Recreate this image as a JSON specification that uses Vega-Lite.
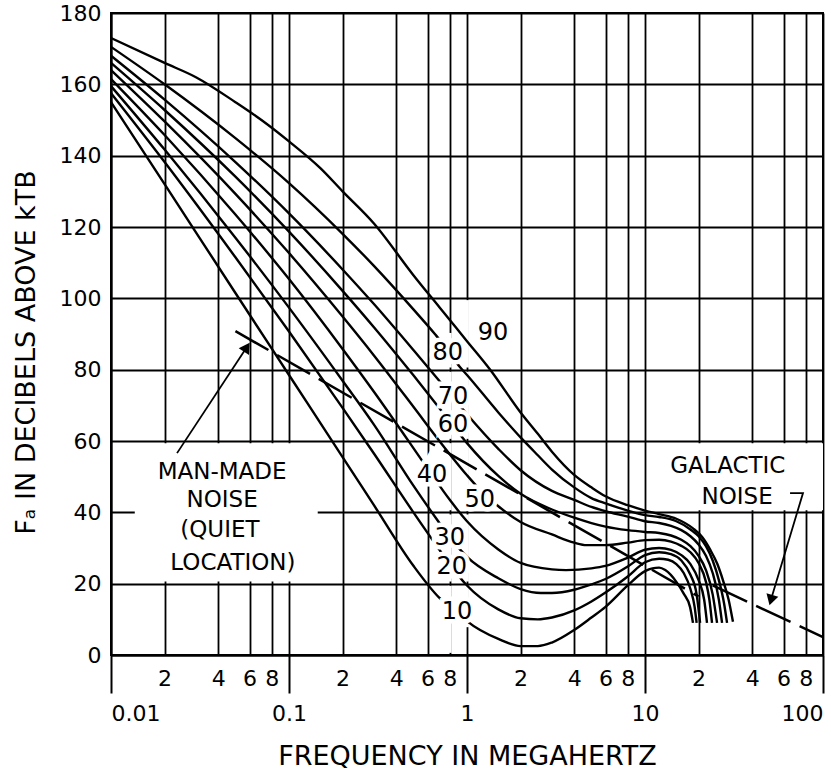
{
  "$schema": "https://vega.github.io/schema/vega-lite/v6.json",
  "width": 712,
  "height": 642,
  "autosize": "none",
  "padding": {"left": 111, "top": 13, "right": 8, "bottom": 119},
  "background": "white",
  "config": {
    "font": "DejaVu Sans",
    "view": {"stroke": "black", "strokeWidth": 2},
    "axis": {
      "gridColor": "black", "gridOpacity": 1, "gridWidth": 1.8,
      "domainColor": "black", "domainWidth": 2,
      "labelColor": "black", "titleColor": "black", "tickColor": "black",
      "labelFont": "DejaVu Sans", "titleFont": "DejaVu Sans", "titleFontWeight": "normal"
    }
  },
  "datasets": {
    "curves": [
      {"c":"10","f":0.01,"v":155},{"c":"10","f":0.02,"v":132},{"c":"10","f":0.05,"v":101.5},{"c":"10","f":0.1,"v":78.5},{"c":"10","f":0.2,"v":55.5},{"c":"10","f":0.3,"v":42},{"c":"10","f":0.5,"v":25},{"c":"10","f":0.7,"v":16},{"c":"10","f":0.88,"v":12},{"c":"10","f":1,"v":9.5},{"c":"10","f":1.5,"v":4.5},{"c":"10","f":2,"v":2.5},{"c":"10","f":2.5,"v":2.5},{"c":"10","f":3,"v":3.5},{"c":"10","f":4,"v":7},{"c":"10","f":5,"v":10.5},{"c":"10","f":6,"v":13.5},{"c":"10","f":8,"v":19.5},{"c":"10","f":10,"v":23.5},{"c":"10","f":11,"v":24.3},{"c":"10","f":12,"v":24.5},{"c":"10","f":13,"v":23.8},{"c":"10","f":15,"v":20.5},{"c":"10","f":16.5,"v":17.2},{"c":"10","f":17.9,"v":13.5},{"c":"10","f":18.6,"v":9},
      {"c":"20","f":0.01,"v":157.5},{"c":"20","f":0.02,"v":138.2},{"c":"20","f":0.05,"v":111.5},{"c":"20","f":0.1,"v":90.7},{"c":"20","f":0.2,"v":69.3},{"c":"20","f":0.3,"v":56.5},{"c":"20","f":0.5,"v":40},{"c":"20","f":0.7,"v":29.5},{"c":"20","f":0.82,"v":24.7},{"c":"20","f":1,"v":19.5},{"c":"20","f":1.5,"v":12.8},{"c":"20","f":2,"v":10.3},{"c":"20","f":2.5,"v":10},{"c":"20","f":3,"v":10.5},{"c":"20","f":4,"v":12.5},{"c":"20","f":5,"v":15},{"c":"20","f":6,"v":17.5},{"c":"20","f":8,"v":22},{"c":"20","f":10,"v":26},{"c":"20","f":12,"v":27},{"c":"20","f":13.5,"v":26.7},{"c":"20","f":15,"v":25.5},{"c":"20","f":16.5,"v":23},{"c":"20","f":18,"v":18.5},{"c":"20","f":19,"v":13.5},{"c":"20","f":19.5,"v":9},
      {"c":"30","f":0.01,"v":159.5},{"c":"30","f":0.02,"v":141.7},{"c":"30","f":0.05,"v":117},{"c":"30","f":0.1,"v":97.4},{"c":"30","f":0.2,"v":76.9},{"c":"30","f":0.3,"v":64.6},{"c":"30","f":0.5,"v":47.5},{"c":"30","f":0.7,"v":37},{"c":"30","f":0.8,"v":33},{"c":"30","f":1,"v":27.5},{"c":"30","f":1.5,"v":21.5},{"c":"30","f":2,"v":18.5},{"c":"30","f":2.6,"v":17.4},{"c":"30","f":3,"v":17.4},{"c":"30","f":4,"v":18.3},{"c":"30","f":5,"v":19.8},{"c":"30","f":6,"v":21.3},{"c":"30","f":8,"v":24.8},{"c":"30","f":10,"v":28},{"c":"30","f":12,"v":28.8},{"c":"30","f":14,"v":28.3},{"c":"30","f":16,"v":26.5},{"c":"30","f":18,"v":22.5},{"c":"30","f":19.5,"v":17},{"c":"30","f":20.4,"v":9},
      {"c":"40","f":0.01,"v":161.5},{"c":"40","f":0.02,"v":145.8},{"c":"40","f":0.05,"v":123.5},{"c":"40","f":0.1,"v":105.4},{"c":"40","f":0.2,"v":85.8},{"c":"40","f":0.3,"v":73.8},{"c":"40","f":0.5,"v":58},{"c":"40","f":0.635,"v":50.5},{"c":"40","f":0.8,"v":43.5},{"c":"40","f":1,"v":37.5},{"c":"40","f":1.5,"v":29.6},{"c":"40","f":2,"v":25.8},{"c":"40","f":3,"v":24},{"c":"40","f":3.6,"v":23.8},{"c":"40","f":5,"v":24.3},{"c":"40","f":6,"v":25},{"c":"40","f":8,"v":27.3},{"c":"40","f":10,"v":29.5},{"c":"40","f":12,"v":30},{"c":"40","f":14,"v":29.5},{"c":"40","f":16,"v":28},{"c":"40","f":18,"v":25.5},{"c":"40","f":20,"v":21},{"c":"40","f":21.5,"v":15.5},{"c":"40","f":22.3,"v":9},
      {"c":"50","f":0.01,"v":164},{"c":"50","f":0.02,"v":149.6},{"c":"50","f":0.05,"v":129.3},{"c":"50","f":0.1,"v":112.7},{"c":"50","f":0.2,"v":94.9},{"c":"50","f":0.3,"v":84},{"c":"50","f":0.5,"v":69.6},{"c":"50","f":0.7,"v":60},{"c":"50","f":1,"v":50.4},{"c":"50","f":1.18,"v":46.4},{"c":"50","f":1.5,"v":41.7},{"c":"50","f":2,"v":37.3},{"c":"50","f":3,"v":33.8},{"c":"50","f":4,"v":31.5},{"c":"50","f":4.7,"v":30.8},{"c":"50","f":6,"v":30.8},{"c":"50","f":8,"v":31.5},{"c":"50","f":10,"v":32.2},{"c":"50","f":12,"v":32.3},{"c":"50","f":14,"v":31.8},{"c":"50","f":16,"v":30.6},{"c":"50","f":18,"v":28.8},{"c":"50","f":20,"v":25.8},{"c":"50","f":22,"v":20.5},{"c":"50","f":23,"v":15.5},{"c":"50","f":23.8,"v":9},
      {"c":"60","f":0.01,"v":166},{"c":"60","f":0.02,"v":152.8},{"c":"60","f":0.05,"v":134.1},{"c":"60","f":0.1,"v":118.7},{"c":"60","f":0.2,"v":102.1},{"c":"60","f":0.3,"v":91.9},{"c":"60","f":0.5,"v":78.4},{"c":"60","f":0.7,"v":69.2},{"c":"60","f":0.834,"v":64.3},{"c":"60","f":1,"v":59.4},{"c":"60","f":1.5,"v":50.2},{"c":"60","f":2,"v":45.2},{"c":"60","f":3,"v":40.8},{"c":"60","f":4,"v":38.5},{"c":"60","f":5,"v":37},{"c":"60","f":6,"v":36},{"c":"60","f":8,"v":35},{"c":"60","f":10,"v":34.5},{"c":"60","f":12,"v":34.2},{"c":"60","f":14,"v":33.5},{"c":"60","f":16,"v":32.3},{"c":"60","f":18,"v":30.5},{"c":"60","f":20,"v":27.8},{"c":"60","f":22,"v":23.8},{"c":"60","f":24,"v":17},{"c":"60","f":25.4,"v":9},
      {"c":"70","f":0.01,"v":168},{"c":"70","f":0.02,"v":155.7},{"c":"70","f":0.05,"v":138.2},{"c":"70","f":0.1,"v":123.8},{"c":"70","f":0.2,"v":108.1},{"c":"70","f":0.3,"v":98.4},{"c":"70","f":0.5,"v":85.5},{"c":"70","f":0.7,"v":76.8},{"c":"70","f":0.834,"v":72.2},{"c":"70","f":1,"v":67.5},{"c":"70","f":1.5,"v":57.8},{"c":"70","f":2,"v":51.8},{"c":"70","f":3,"v":46},{"c":"70","f":4,"v":43.5},{"c":"70","f":5,"v":41.5},{"c":"70","f":6,"v":40.3},{"c":"70","f":8,"v":38.8},{"c":"70","f":10,"v":37.5},{"c":"70","f":12,"v":37},{"c":"70","f":14,"v":36.2},{"c":"70","f":16,"v":35},{"c":"70","f":18,"v":33.3},{"c":"70","f":20,"v":31},{"c":"70","f":22,"v":27.8},{"c":"70","f":24,"v":23},{"c":"70","f":26,"v":15.5},{"c":"70","f":27.1,"v":9},
      {"c":"80","f":0.01,"v":170.5},{"c":"80","f":0.02,"v":160},{"c":"80","f":0.05,"v":144.9},{"c":"80","f":0.1,"v":132.3},{"c":"80","f":0.2,"v":118.1},{"c":"80","f":0.3,"v":109.1},{"c":"80","f":0.5,"v":96.9},{"c":"80","f":0.66,"v":90},{"c":"80","f":0.78,"v":85.5},{"c":"80","f":0.91,"v":80.8},{"c":"80","f":1,"v":78.5},{"c":"80","f":1.5,"v":68},{"c":"80","f":2,"v":61},{"c":"80","f":2.5,"v":56},{"c":"80","f":3,"v":52},{"c":"80","f":4,"v":47},{"c":"80","f":5,"v":44},{"c":"80","f":6,"v":42.5},{"c":"80","f":8,"v":40.5},{"c":"80","f":10,"v":39.2},{"c":"80","f":12,"v":38.7},{"c":"80","f":15,"v":37.5},{"c":"80","f":18,"v":35.2},{"c":"80","f":20,"v":33.3},{"c":"80","f":22,"v":30.5},{"c":"80","f":24,"v":26.5},{"c":"80","f":26,"v":21},{"c":"80","f":27.8,"v":14.5},{"c":"80","f":28.9,"v":9},
      {"c":"90","f":0.01,"v":173},{"c":"90","f":0.02,"v":166},{"c":"90","f":0.03,"v":162},{"c":"90","f":0.05,"v":155},{"c":"90","f":0.07,"v":150},{"c":"90","f":0.1,"v":144},{"c":"90","f":0.15,"v":136.5},{"c":"90","f":0.2,"v":130},{"c":"90","f":0.3,"v":121},{"c":"90","f":0.5,"v":106.5},{"c":"90","f":0.7,"v":97.5},{"c":"90","f":1,"v":88},{"c":"90","f":1.35,"v":80},{"c":"90","f":2,"v":68},{"c":"90","f":2.5,"v":62},{"c":"90","f":3,"v":57},{"c":"90","f":4,"v":50.5},{"c":"90","f":5,"v":47},{"c":"90","f":6,"v":44.5},{"c":"90","f":8,"v":42},{"c":"90","f":10,"v":40.5},{"c":"90","f":12,"v":39.5},{"c":"90","f":15,"v":38.2},{"c":"90","f":18.6,"v":35.5},{"c":"90","f":21,"v":33},{"c":"90","f":23.2,"v":29.6},{"c":"90","f":25.5,"v":25.5},{"c":"90","f":27.4,"v":21},{"c":"90","f":29.5,"v":15.5},{"c":"90","f":31.2,"v":9.3}
    ],
    "noise": [
      {"g":"man-made","f":0.05,"v":90.8},{"g":"man-made","f":20,"v":16.4},
      {"g":"galactic","f":24,"v":19.5},{"g":"galactic","f":100,"v":5}
    ],
    "boxes": [
      {"f":0.0136,"f2":0.145,"v":20.6,"v2":59.4},
      {"f":10.8,"f2":100,"v":40.6,"v2":59.4},
      {"f":0.78,"f2":0.82,"v":0.6,"v2":19.4},{"f":0.78,"f2":0.82,"v":20.6,"v2":39.4},{"f":0.78,"f2":0.82,"v":40.6,"v2":59.4},{"f":0.78,"f2":0.82,"v":60.6,"v2":79.4},{"f":0.78,"f2":0.82,"v":80.6,"v2":90.3},
      {"f":0.975,"f2":1.025,"v":7.8,"v2":19.4},{"f":0.975,"f2":1.025,"v":20.6,"v2":39.4},{"f":0.975,"f2":1.025,"v":40.6,"v2":59.4},{"f":0.975,"f2":1.025,"v":60.6,"v2":79.4},{"f":0.975,"f2":1.025,"v":80.6,"v2":99.5}
    ],
    "curveLabels": [
      {"t":"90","f":1.4,"v":90.3},{"t":"80","f":0.78,"v":84.7},{"t":"70","f":0.834,"v":72.3},{"t":"60","f":0.834,"v":64.5},{"t":"40","f":0.635,"v":50.5},{"t":"50","f":1.18,"v":43.5},{"t":"30","f":0.8,"v":32.8},{"t":"20","f":0.82,"v":24.7},{"t":"10","f":0.88,"v":12.1}
    ],
    "notes": [
      {"t":"MAN-MADE","f":0.0421,"v":51.3},{"t":"NOISE","f":0.0421,"v":43.5},{"t":"(QUIET","f":0.0409,"v":35},{"t":"LOCATION)","f":0.0484,"v":25.8},
      {"t":"GALACTIC","f":29.2,"v":53},{"t":"NOISE","f":32.9,"v":44.3}
    ],
    "arrows": [
      {"a":"man","i":1,"f":0.0235,"v":56.6},{"a":"man","i":2,"f":0.0579,"v":86.3},
      {"a":"gal","i":1,"f":65.3,"v":45.4},{"a":"gal","i":2,"f":77.2,"v":45.4},{"a":"gal","i":3,"f":50.3,"v":14.5}
    ]
  },
  "encoding": {
    "x": {
      "field": "f", "type": "quantitative",
      "scale": {"type": "log", "domain": [0.01, 100], "nice": false},
      "axis": {
        "title": "FREQUENCY IN MEGAHERTZ",
        "values": [0.01,0.02,0.04,0.06,0.08,0.1,0.2,0.4,0.6,0.8,1,2,4,6,8,10,20,40,60,80,100],
        "grid": true,
        "labelExpr": "indexof([0.01,0.1,1,10,100], datum.value) >= 0 ? format(datum.value, '~g') : format(datum.value / pow(10, floor(log(datum.value) / LN10 + 0.0001)), '.0f')",
        "labelFlush": true,
        "labelOverlap": false,
        "labelFontSize": 22,
        "labelPadding": {"condition": {"test": "indexof([0.01,0.1,1,10,100], datum.value) >= 0", "value": 10}, "value": -25},
        "tickSize": 38,
        "tickWidth": 2,
        "tickOpacity": {"condition": {"test": "indexof([0.01,0.1,1,10,100], datum.value) >= 0", "value": 1}, "value": 0},
        "titleFontSize": 27,
        "titlePadding": 19
      }
    },
    "y": {
      "field": "v", "type": "quantitative",
      "scale": {"domain": [0, 180], "nice": false, "zero": false},
      "axis": {
        "title": "Fₐ IN DECIBELS ABOVE kTB",
        "values": [0,20,40,60,80,100,120,140,160,180],
        "grid": true,
        "ticks": false,
        "labelPadding": 10,
        "labelFontSize": 22,
        "titleFontSize": 27,
        "titlePadding": 19,
        "titleY": 339
      }
    }
  },
  "layer": [
    {
      "data": {"name": "boxes"},
      "mark": {"type": "rect", "fill": "white", "stroke": null},
      "encoding": {"x2": {"field": "f2"}, "y2": {"field": "v2"}}
    },
    {
      "data": {"name": "curves"},
      "mark": {"type": "line", "interpolate": "monotone", "color": "black", "strokeWidth": 2.4},
      "encoding": {"detail": {"field": "c"}}
    },
    {
      "data": {"name": "noise"},
      "mark": {"type": "line", "color": "black", "strokeWidth": 2.5, "strokeDash": [38, 10]},
      "encoding": {"detail": {"field": "g"}}
    },
    {
      "data": {"name": "arrows"},
      "mark": {"type": "line", "color": "black", "strokeWidth": 1.8},
      "encoding": {"detail": {"field": "a"}, "order": {"field": "i"}}
    },
    {
      "data": {"values": [{"f": 0.0579, "v": 86.3}]},
      "mark": {"type": "point", "shape": "triangle-up", "filled": true, "color": "black", "size": 150, "angle": 33, "opacity": 1}
    },
    {
      "data": {"values": [{"f": 51.0, "v": 15.4}]},
      "mark": {"type": "point", "shape": "triangle-up", "filled": true, "color": "black", "size": 150, "angle": 196, "opacity": 1}
    },
    {
      "data": {"name": "curveLabels"},
      "mark": {"type": "text", "fontSize": 24, "stroke": "white", "strokeWidth": 9, "fill": "white", "align": "center", "baseline": "middle"},
      "encoding": {"text": {"field": "t"}}
    },
    {
      "data": {"name": "curveLabels"},
      "mark": {"type": "text", "fontSize": 24, "color": "black", "align": "center", "baseline": "middle"},
      "encoding": {"text": {"field": "t"}}
    },
    {
      "data": {"name": "notes"},
      "mark": {"type": "text", "fontSize": 23, "color": "black", "align": "center", "baseline": "middle"},
      "encoding": {"text": {"field": "t"}}
    }
  ]
}
